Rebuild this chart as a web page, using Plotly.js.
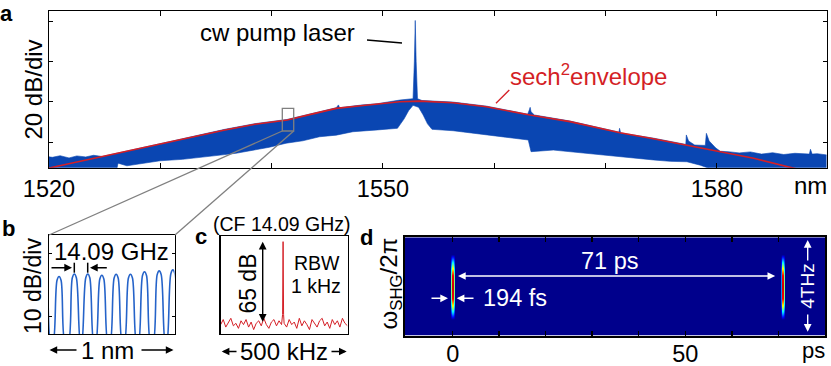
<!DOCTYPE html>
<html>
<head>
<meta charset="utf-8">
<script src="https://cdn.plot.ly/plotly-3.0.1.min.js"></script>
<style>
  html, body { margin: 0; padding: 0; background: #fff; }
  #chart { width: 831px; height: 366px; }
</style>
</head>
<body>
<div id="chart"></div>
<script>
/*
! a: optical spectrum (upper / lower edge of the comb band + sech2 envelope)
*/
var upNm = [1519.5, 1520.3, 1521.0, 1521.8, 1522.5, 1523.3, 1524.0, 1524.8, 1525.5, 1527.7, 1531.0,
  1535.8, 1538.5, 1541.4, 1543.5, 1545.8, 1546.0, 1546.1, 1548.0, 1549.5, 1551.5, 1552.5, 1552.7,
  1552.82, 1552.9, 1552.98, 1553.1, 1553.5, 1556.3, 1559.3, 1563.0, 1563.15, 1563.22, 1563.3, 1563.6,
  1566.8, 1571.2, 1571.25, 1571.35, 1574.3, 1577.2, 1577.25, 1577.45, 1578.0, 1578.95, 1579.05,
  1579.3, 1579.9, 1580.3, 1581.0, 1582.0, 1583.0, 1584.0, 1585.0, 1586.0, 1587.0, 1588.3, 1588.4,
  1588.55, 1589.0, 1590.0];
var upDb = [-67.0, -67.6, -66.8, -67.9, -66.9, -67.4, -66.6, -67.2, -66.3, -63.7, -59.6,
  -53.7, -50.9, -48.8, -46.0, -43.0, -41.6, -43.0, -41.7, -41.0, -39.2, -38.8, -38.5,
  -20.0, 0.3, -20.0, -38.5, -39.4, -40.2, -42.2, -46.2, -44.0, -42.8, -45.0, -46.6,
  -49.6, -55.1, -53.2, -55.5, -58.1, -61.2, -56.5, -59.5, -61.5, -61.7, -55.7,
  -59.5, -63.0, -64.6, -64.8, -65.4, -64.9, -66.0, -65.3, -66.2, -65.6, -66.0, -63.6,
  -66.0, -65.8, -66.5];

var loNm = [1519.5, 1526.0, 1526.2, 1527.0, 1528.0, 1529.0, 1530.0, 1532.0, 1534.0, 1535.4, 1536.8,
  1538.3, 1539.8, 1541.3, 1542.8, 1544.3, 1545.8, 1547.3, 1549.5, 1551.3, 1551.6, 1551.9, 1552.3,
  1552.7, 1553.2, 1553.6, 1554.0, 1554.4, 1556.3, 1559.3, 1561.0, 1563.05, 1563.3, 1565.3, 1568.3,
  1570.0, 1571.3, 1572.5, 1574.3, 1575.8, 1577.3, 1578.5, 1579.5, 1580.0, 1590.0];
var loDb = [-76, -76, -70.5, -71.8, -70.8, -70.2, -69.3, -68.6, -67.4, -66.5, -65.6,
  -64.0, -62.6, -60.6, -59.4, -57.4, -56.6, -54.9, -54.0, -53.2, -51.0, -48.5, -44.5,
  -41.8, -42.8, -46.5, -51.0, -53.7, -54.4, -56.5, -57.6, -59.0, -64.8, -64.0, -65.6,
  -66.8, -67.3, -67.9, -68.9, -69.6, -69.8, -71.5, -73.5, -76, -76];

var envNm = [1519.5, 1520.5, 1524.0, 1527.7, 1531.0, 1535.8, 1538.5, 1541.4, 1543.5, 1545.8, 1548.0,
  1550.0, 1551.5, 1553.3, 1556.3, 1559.3, 1563.2, 1566.8, 1571.3, 1574.3, 1577.3, 1580.3, 1583.3,
  1586.3, 1588.0];
var envDb = [-73.5, -72.3, -68.3, -64.0, -59.9, -54.0, -51.2, -49.1, -46.3, -43.3, -42.0,
  -40.8, -40.0, -39.7, -40.5, -42.5, -46.6, -49.9, -55.4, -58.4, -61.5, -64.8, -68.1,
  -72.3, -74.5];

var aTicks = [1520, 1530, 1540, 1550, 1560, 1570, 1580];
var aTickText = ['1520', '', '', '1550', '', '', '1580'];

/*
! b: zoom on individual comb lines
*/
var bNm = [-0.085, -0.051, -0.035, -0.019, 0.015,
  0.030, 0.064, 0.080, 0.096, 0.130,
  0.152, 0.186, 0.202, 0.218, 0.252,
  0.259, 0.293, 0.309, 0.325, 0.359,
  0.371, 0.405, 0.421, 0.437, 0.471,
  0.485, 0.519, 0.535, 0.551, 0.585,
  0.599, 0.633, 0.649, 0.665, 0.699,
  0.711, 0.745, 0.761, 0.777, 0.811,
  0.828, 0.862, 0.878, 0.894, 0.928,
  0.937, 0.971, 0.987, 1.003, 1.037];
var bDb = [-14.5, -4.4, -3.8, -4.4, -14.5,
  -14.5, -4.3, -3.7, -4.3, -14.5,
  -14.5, -3.9, -3.3, -3.9, -14.5,
  -14.5, -3.9, -3.3, -3.9, -14.5,
  -14.5, -4.1, -3.5, -4.1, -14.5,
  -14.5, -3.95, -3.35, -3.95, -14.5,
  -14.5, -3.95, -3.35, -3.95, -14.5,
  -14.5, -3.55, -2.95, -3.55, -14.5,
  -14.5, -3.4, -2.8, -3.4, -14.5,
  -14.5, -3.25, -2.65, -3.25, -14.5];

/*
! c: RF beat note
*/
var cKhz = [-250, -240, -230, -220, -210, -200, -190, -180, -170, -160, -150, -140, -130, -120,
  -110, -100, -90, -80, -70, -60, -50, -40, -30, -20, -10, -6, -4, -2, 0, 10, 20, 30, 40, 50,
  60, 70, 80, 90, 100, 110, 120, 130, 140, 150, 160, 170, 180, 190, 200, 210, 220, 230, 240, 250];
var cDb = [-66, -62, -68, -64, -61, -67, -65, -69, -63, -66, -62, -68, -64, -70,
  -65, -63, -67, -61, -66, -69, -64, -62, -67, -63, -66, -58, 0, -58, -65, -68, -62, -66, -64, -69,
  -61, -67, -63, -66, -70, -62, -65, -68, -63, -61, -67, -64, -69, -62, -66, -63, -68, -61, -65, -67];

/*
! d: FROG trace (time and frequency profiles of the two pulses)
*/
var dPs = [-15, -0.55, -0.3, -0.1, 0.1, 0.3, 0.55, 70.45, 70.7, 70.9, 71.1, 71.3, 71.55, 85];
var dTimeProfile = [0, 0, 0.55, 1, 1, 0.55, 0, 0, 0.55, 1, 1, 0.55, 0, 0];
var dThz = [-3, -1.42, -1.15, -0.85, -0.5, 0, 0.5, 0.85, 1.15, 1.42, 3];
var dFreqProfile = [0, 0, 0.3, 0.62, 0.95, 1, 0.95, 0.62, 0.3, 0, 0];
var dTicks = [0, 10, 20, 30, 40, 50, 60, 70];
var dTickText = ['0', '', '', '', '', '50', '', ''];

var dZ = dFreqProfile.map(function (f) {
  return dTimeProfile.map(function (t) { return f * t; });
});

var FONT = 'Liberation Sans, Arial, sans-serif';
var BLUE = '#0a46b2';
var RED = '#d41f26';
var W = 831, H = 366;

function label(text, x, y, extra) {
  var a = {
    text: text, x: x / W, y: 1 - y / H, xref: 'paper', yref: 'paper',
    showarrow: false, xanchor: 'center', yanchor: 'middle',
    font: { family: FONT, size: 24, color: '#000' }
  };
  for (var k in extra) a[k] = extra[k];
  return a;
}

function arrow(hx, hy, tx, ty, color, both) {
  return {
    text: '', x: hx / W, y: 1 - hy / H, xref: 'paper', yref: 'paper',
    ax: tx - hx, ay: ty - hy, showarrow: true,
    arrowhead: 2, arrowsize: 1.1, arrowwidth: 1.4, arrowcolor: color,
    arrowside: both ? 'end+start' : 'end'
  };
}

function seg(x0, y0, x1, y1, color, width) {
  return {
    type: 'line', xref: 'paper', yref: 'paper',
    x0: x0 / W, y0: 1 - y0 / H, x1: x1 / W, y1: 1 - y1 / H,
    line: { color: color, width: width }
  };
}

var traces = [
  {
    x: upNm.concat(loNm.slice().reverse()),
    y: upDb.concat(loDb.slice().reverse()),
    type: 'scatter', mode: 'lines', fill: 'toself', fillcolor: BLUE,
    line: { color: BLUE, width: 0.6 }, xaxis: 'x', yaxis: 'y', hoverinfo: 'skip'
  },
  {
    x: envNm, y: envDb, type: 'scatter', mode: 'lines',
    line: { color: RED, width: 1.6 }, xaxis: 'x', yaxis: 'y'
  },
  {
    x: bNm, y: bDb, type: 'scatter', mode: 'lines',
    line: { color: '#2563c9', width: 1.6, shape: 'spline', smoothing: 1 }, xaxis: 'x2', yaxis: 'y2'
  },
  {
    x: cKhz, y: cDb, type: 'scatter', mode: 'lines',
    line: { color: RED, width: 1 }, xaxis: 'x3', yaxis: 'y3'
  },
  {
    x: dPs, y: dThz, z: dZ, type: 'heatmap', zsmooth: 'best', zmin: 0, zmax: 1.1,
    showscale: false, xaxis: 'x4', yaxis: 'y4', hoverinfo: 'skip',
    colorscale: [[0, '#00008c'], [0.11, '#0000ff'], [0.36, '#00ffff'], [0.61, '#ffff00'],
      [0.86, '#ff0000'], [1, '#800000']]
  }
];

var tickFont = { family: FONT, size: 23.5, color: '#000' };

function frame(extra) {
  var ax = {
    showline: true, linecolor: '#000', linewidth: 1.3, mirror: true,
    showgrid: false, zeroline: false, ticks: '', showticklabels: false,
    fixedrange: true
  };
  for (var k in extra) ax[k] = extra[k];
  return ax;
}

var layout = {
  width: W, height: H,
  margin: { l: 0, r: 0, t: 0, b: 0 },
  paper_bgcolor: '#fff', plot_bgcolor: '#fff',
  showlegend: false,
  font: { family: FONT, color: '#000' },

  xaxis: frame({
    domain: [49 / W, 826.5 / W], range: [1520, 1589.84], anchor: 'y', linewidth: 1,
    mirror: 'ticks', ticks: 'inside', ticklen: 5, tickcolor: '#000',
    tickvals: aTicks, ticktext: aTickText, showticklabels: true, tickfont: tickFont
  }),
  yaxis: frame({
    domain: [1 - 167.7 / H, 1 - 11 / H], range: [-72.75, 5.0], anchor: 'x', linewidth: 1,
    mirror: 'ticks', ticks: 'inside', ticklen: 4, tickcolor: '#000', tickvals: [0, -20, -40, -60]
  }),

  xaxis2: frame({ domain: [49 / W, 174.5 / W], range: [0, 1], anchor: 'y2' }),
  yaxis2: frame({
    domain: [1 - 334 / H, 1 - 235 / H], range: [-12.87, 2.92], anchor: 'x2',
    mirror: 'ticks', ticks: 'inside', ticklen: 3, tickcolor: '#000', tickvals: [0, -10]
  }),

  xaxis3: frame({ domain: [220.7 / W, 347.5 / W], range: [-250, 250], anchor: 'y3' }),
  yaxis3: frame({ domain: [1 - 334 / H, 1 - 236 / H], range: [-73.5, 4.5], anchor: 'x3' }),

  xaxis4: frame({
    domain: [405 / W, 825 / W], range: [-10.26, 80.05], anchor: 'y4', linewidth: 2,
    mirror: 'ticks', ticks: 'inside', ticklen: 5, tickwidth: 1.5, tickcolor: '#000',
    tickvals: dTicks, ticktext: dTickText, showticklabels: true, tickfont: tickFont,
    ticklabelstandoff: -4
  }),
  yaxis4: frame({ domain: [1 - 335.7 / H, 1 - 237.3 / H], range: [-2.14, 2.14], anchor: 'x4', linewidth: 2 }),

  shapes: [
    // zoom box and connectors a -> b
    { type: 'rect', xref: 'paper', yref: 'paper', x0: 282.3 / W, x1: 293.7 / W,
      y0: 1 - 131 / H, y1: 1 - 108.3 / H, line: { color: '#808080', width: 1.3 } },
    seg(282.3, 131, 49, 235, '#808080', 1.3),
    seg(293.7, 131, 175, 235, '#808080', 1.3),
    // leaders
    seg(367, 40, 402, 43, '#000', 1.3),
    seg(496, 103.3, 509.3, 90, RED, 1.3),
    // 14.09 GHz markers
    seg(74.3, 262.7, 74.3, 272.7, '#000', 1.5),
    seg(87.7, 262.7, 87.7, 272.7, '#000', 1.5)
  ],

  annotations: [
    label('<b>a</b>', 7, 13, { font: { family: FONT, size: 22, color: '#000' } }),
    label('<b>b</b>', 8.5, 228, { font: { family: FONT, size: 22, color: '#000' } }),
    label('<b>c</b>', 201, 236, { font: { family: FONT, size: 22, color: '#000' } }),
    label('<b>d</b>', 366.5, 237, { font: { family: FONT, size: 22, color: '#000' } }),

    label('20 dB/div', 32.5, 90, { textangle: -90 }),
    label('cw pump laser', 277, 33),
    label('sech<sup>2</sup>envelope', 588, 75, { font: { family: FONT, size: 24, color: RED } }),
    label('nm', 810, 185),

    label('10 dB/div', 32.5, 286.5, { textangle: -90, font: { family: FONT, size: 23, color: '#000' } }),
    label('14.09 GHz', 111.5, 251.5),
    arrow(72, 267.7, 50, 267.7, '#000'),
    arrow(90, 267.7, 108.3, 267.7, '#000'),
    label('1 nm', 107.5, 350),
    arrow(49.5, 350, 78, 350, '#000'),
    arrow(173.5, 350, 140, 350, '#000'),

    label('(CF 14.09 GHz)', 282, 224, { font: { family: FONT, size: 19.5, color: '#000' } }),
    label('65 dB', 248.3, 283.3, { textangle: -90, font: { family: FONT, size: 23, color: '#000' } }),
    arrow(262.7, 241.7, 262.7, 323.3, '#000', true),
    label('RBW', 316.7, 263, { font: { family: FONT, size: 19.5, color: '#000' } }),
    label('1 kHz', 315.5, 285.5, { font: { family: FONT, size: 19.5, color: '#000' } }),
    label('500 kHz', 284, 351),
    arrow(221.7, 351.5, 238, 351.5, '#000'),
    arrow(346.7, 351.5, 330, 351.5, '#000'),

    label('\u03c9<sub>SHG</sub>/2\u03c0', 390, 283.5, { textangle: -90 }),
    label('71 ps', 610, 261, { font: { family: FONT, size: 23.5, color: '#fff' } }),
    arrow(458, 276, 776.7, 276, '#fff', true),
    label('194 fs', 515, 297.5, { font: { family: FONT, size: 23.5, color: '#fff' } }),
    arrow(448, 298.3, 430, 298.3, '#fff'),
    arrow(456.7, 298.3, 475, 298.3, '#fff'),
    label('4THz', 808, 286.7, { textangle: -90, font: { family: FONT, size: 19, color: '#fff' } }),
    arrow(807.7, 240, 807.7, 262, '#fff'),
    arrow(807.7, 331.7, 807.7, 313, '#fff'),
    label('ps', 813, 350, { font: { family: FONT, size: 22, color: '#000' } })
  ]
};

Plotly.newPlot('chart', traces, layout, { displayModeBar: false, staticPlot: true });
</script>
</body>
</html>
